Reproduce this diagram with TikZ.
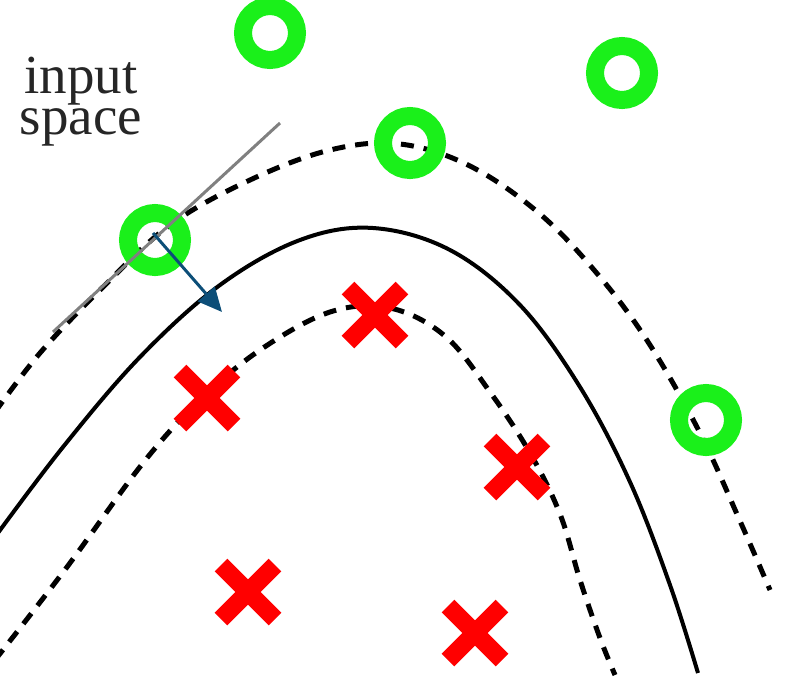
\documentclass[tikz,border=0pt]{standalone}
\usepackage{fontspec}
\setmainfont{Liberation Serif}
\usetikzlibrary{arrows.meta,shapes.misc}

\definecolor{ringgreen}{RGB}{26,240,26}
\definecolor{crossred}{RGB}{255,0,0}
\definecolor{arrowblue}{RGB}{12,78,120}

\tikzset{
	ring/.style = {circle, draw=ringgreen, line width=18pt, minimum size=54pt, inner sep=0pt},
	crossmark/.style = {cross out, draw=crossred, line width=18pt, minimum size=54pt, inner sep=0pt, outer sep=0pt},
	margin/.style = {line width=5pt, dash pattern=on 13pt off 10pt},
	boundary/.style = {line width=4pt}
}

\begin{document}
\begin{tikzpicture}[x=1pt, y=-1pt]
	\useasboundingbox (0,0) rectangle (792,678);
	\clip (0,0) rectangle (792,678);
	\node[align=center, font=\fontsize{55}{41}\selectfont, text=black!85] (title) at (81,102) {input\\space};
	% boundary and margins
	\draw[boundary] plot[smooth, tension=0.6] coordinates {(-5,537) (63,447) (140,357) (220,285) (300,240) (373,228) (450,250) (520,305) (580,387) (630,482) (670,585) (698,673)};
	\draw[margin] plot[smooth, tension=0.6] coordinates {(-5,412) (40,353) (100,290) (170,225) (250,180) (330,150) (400,144) (470,166) (540,214) (600,277) (650,345) (700,433) (740,521) (770,590)};
	\draw[margin] plot[smooth, tension=0.6] coordinates {(-5,660) (67,567) (143,463) (200,400) (260,350) (330,312) (390,308) (445,336) (490,392) (530,453) (560,514) (580,580) (600,638) (615,675)};
	% samples
	\node[ring] (o1) at (270,33) {};
	\node[ring] (o2) at (622,73) {};
	\node[ring] (o3) at (410,143) {};
	\node[ring] (o4) at (155,240) {};
	\node[ring] (o5) at (706,420) {};
	\node[crossmark] (x1) at (375,315) {};
	\node[crossmark] (x2) at (207,398) {};
	\node[crossmark] (x3) at (517,467) {};
	\node[crossmark] (x4) at (248,592) {};
	\node[crossmark] (x5) at (475,633) {};
	% tangent line and normal
	\coordinate (t1) at (53,332);
	\coordinate (t2) at (280,123);
	\draw[gray, line width=3pt] (t1) -- (t2);
	\coordinate (n1) at (153,233);
	\coordinate (n2) at (222,312);
	\draw[arrowblue, line width=3pt, -{Triangle[length=24pt, width=22pt]}] (n1) -- (n2);
\end{tikzpicture}
\end{document}
